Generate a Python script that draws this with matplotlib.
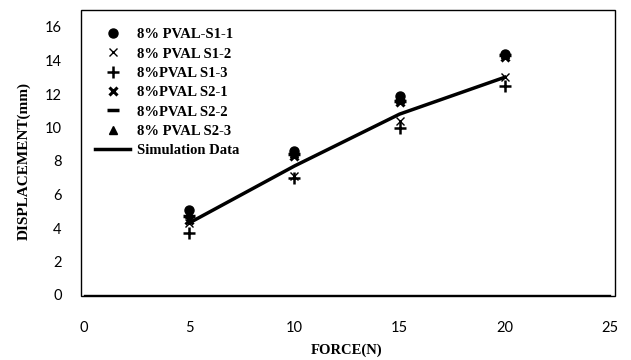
import numpy as np
import matplotlib
matplotlib.use("Agg")
import matplotlib.pyplot as plt
from matplotlib.patches import Rectangle

plt.rcParams["font.family"] = "Lato"

force = [5, 10, 15, 20]
s1_1 = [5.1, 8.6, 11.9, 14.4]
s1_2 = [4.3, 7.1, 10.4, 13.0]
s1_3 = [3.7, 7.0, 10.0, 12.5]
s2_1 = [4.5, 8.3, 11.5, 14.2]
s2_2 = [4.7, 8.4, 11.6, 14.3]
s2_3 = [4.9, 8.5, 11.7, 14.4]
sim_force = [5, 10, 15, 20]
sim_disp = [4.3, 7.7, 10.8, 13.0]

W, H = 631, 360
fig = plt.figure(figsize=(W/100., H/100.), dpi=100)
ax = fig.add_axes([84/W, 1-295/H, (610-84)/W, (295-27)/H])

ax.plot(force, s1_1, 'o', color='black', ms=6.5, label='8% PVAL-S1-1')
ax.plot(force, s1_2, 'x', color='black', ms=6, mew=1.0, label='8% PVAL S1-2')
ax.plot(force, s1_3, '+', color='black', ms=9, mew=1.8, label='8%PVAL S1-3')
ax.plot(force, s2_1, 'x', color='black', ms=6, mew=2.2, label='8%PVAL S2-1')
ax.plot(force, s2_2, '_', color='black', ms=8, mew=2.5, label='8%PVAL S2-2')
ax.plot(force, s2_3, '^', color='black', ms=6, label='8% PVAL S2-3')
ax.plot(sim_force, sim_disp, '-', color='black', lw=2.5, label='Simulation Data')

ax.set_xlim(0, 25)
ax.set_ylim(0, 16)
ax.set_xticks(np.arange(0, 26, 5))
ax.set_yticks(np.arange(0, 17, 2))
ax.tick_params(axis='y', length=0, labelsize=10.5, pad=16)
ax.tick_params(axis='x', length=0, labelsize=10.5, pad=19)
for s in ['top', 'right', 'left']:
    ax.spines[s].set_visible(False)
ax.spines['bottom'].set_linewidth(1.0)

ax.set_xlabel('FORCE(N)', fontsize=10.5, fontweight='bold', family='Liberation Serif', labelpad=6)
ax.set_ylabel('DISPLACEMENT(mm)', fontsize=11, fontweight='bold', family='Liberation Serif', labelpad=10)

handles, labels = ax.get_legend_handles_labels()
leg = ax.legend(handles, labels, loc='upper left', bbox_to_anchor=(0.01, 1.018), frameon=False,
                prop={'family': 'Liberation Serif', 'weight': 'bold', 'size': 10.5},
                handlelength=2.4, labelspacing=0.42, handletextpad=0.5, borderaxespad=0.)

# outer border round the plot area
border = Rectangle((81/W, 1-296/H), (615-81)/W, (296-10)/H,
                   transform=fig.transFigure, fill=False,
                   edgecolor='black', lw=1.0, clip_on=False, zorder=10)
ax.add_patch(border)

plt.savefig('out.png', dpi=100)
